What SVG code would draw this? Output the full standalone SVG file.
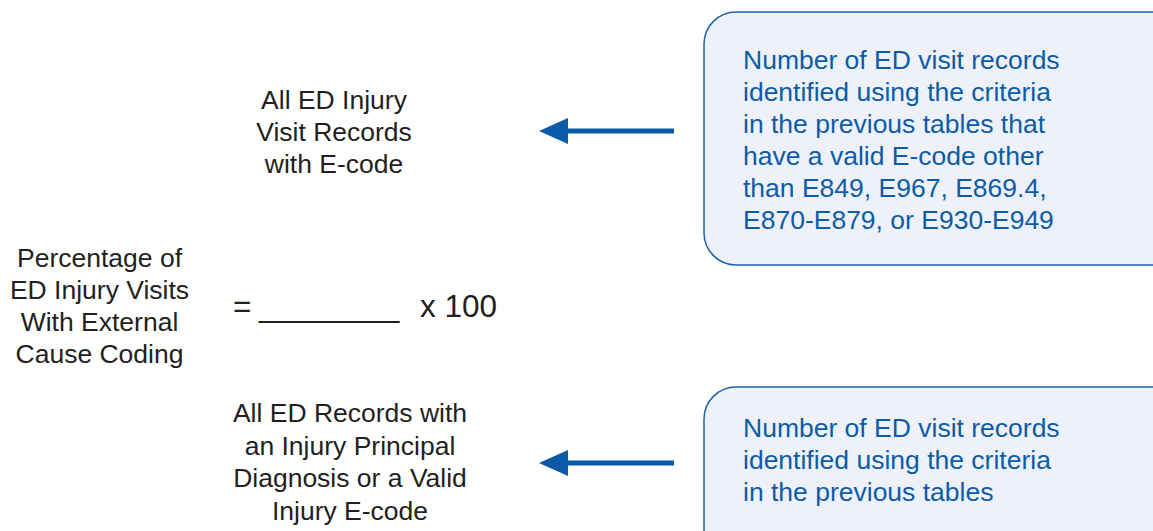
<svg xmlns="http://www.w3.org/2000/svg" width="1153" height="531" viewBox="0 0 1153 531">
  <style>
    .dark { font-family: "Liberation Sans", Arial, sans-serif; font-size: 26.5px; fill: #231f20; text-anchor: middle; }
    .eq { font-family: "Liberation Sans", Arial, sans-serif; font-size: 31.5px; fill: #231f20; }
    .note { font-family: "Liberation Sans", Arial, sans-serif; font-size: 26.5px; fill: #0c5ca8; }
    .box { fill: #eef1f9; stroke: #1f63aa; stroke-width: 1.5; }
    .shaft { stroke: #0a5aa8; stroke-width: 5; fill: none; }
    .head { fill: #0a5aa8; }
  </style>
  <rect width="1153" height="531" fill="#ffffff"/>

  <g id="formula-label">
    <text class="dark" x="99.5" y="267">Percentage of</text>
    <text class="dark" x="99.5" y="299">ED Injury Visits</text>
    <text class="dark" x="99.5" y="331">With External</text>
    <text class="dark" x="99.5" y="363">Cause Coding</text>
  </g>

  <g id="equation">
    <text class="eq" x="233" y="317">=</text>
    <text class="eq" x="259" y="317">________</text>
    <text class="eq" x="420" y="317">x 100</text>
  </g>

  <g id="numerator">
    <text class="dark" x="334" y="109">All ED Injury</text>
    <text class="dark" x="334" y="141">Visit Records</text>
    <text class="dark" x="334" y="173">with E-code</text>
  </g>

  <g id="denominator">
    <text class="dark" x="350" y="422">All ED Records with</text>
    <text class="dark" x="350" y="454.5">an Injury Principal</text>
    <text class="dark" x="350" y="487">Diagnosis or a Valid</text>
    <text class="dark" x="350" y="519.5">Injury E-code</text>
  </g>

  <g id="numerator-note">
    <rect class="box" x="704" y="12" width="480" height="253" rx="32" ry="32"/>
    <text class="note" x="743" y="69">Number of ED visit records</text>
    <text class="note" x="743" y="101">identified using the criteria</text>
    <text class="note" x="743" y="133">in the previous tables that</text>
    <text class="note" x="743" y="165">have a valid E-code other</text>
    <text class="note" x="743" y="197">than E849, E967, E869.4,</text>
    <text class="note" x="743" y="229">E870-E879, or E930-E949</text>
  </g>

  <g id="denominator-note">
    <rect class="box" x="704" y="387" width="480" height="200" rx="32" ry="32"/>
    <text class="note" x="743" y="437">Number of ED visit records</text>
    <text class="note" x="743" y="469">identified using the criteria</text>
    <text class="note" x="743" y="501">in the previous tables</text>
  </g>

  <g id="connectors">
    <line class="shaft" x1="674" y1="131" x2="565" y2="131"/>
    <polygon class="head" points="539,131 568,118 568,144"/>
    <line class="shaft" x1="674" y1="463" x2="565" y2="463"/>
    <polygon class="head" points="539,463 568,450 568,476"/>
  </g>
</svg>
